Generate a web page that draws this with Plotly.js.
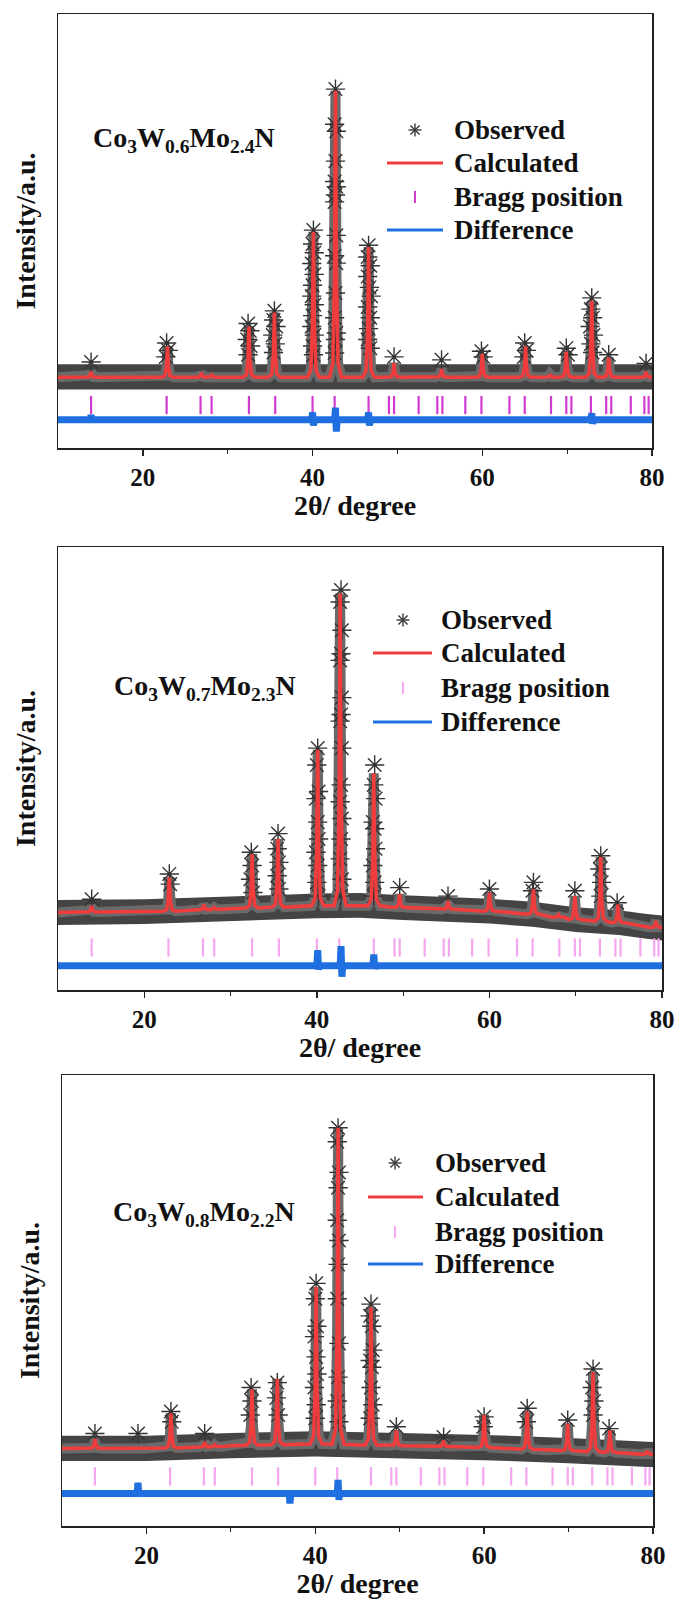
<!DOCTYPE html>
<html><head><meta charset="utf-8">
<script src="https://cdn.plot.ly/plotly-3.0.1.min.js"></script>
<style>html,body{margin:0;padding:0;background:#fff}</style>
</head><body><div id="chart" style="width:678px;height:1600px"></div>
<script>
// ---------- data (y in arbitrary intensity units, 0-100 per panel) ----------
const sampleLabels = ['Co<sub>3</sub>W<sub>0.6</sub>Mo<sub>2.4</sub>N',
                      'Co<sub>3</sub>W<sub>0.7</sub>Mo<sub>2.3</sub>N',
                      'Co<sub>3</sub>W<sub>0.8</sub>Mo<sub>2.2</sub>N'];
const seriesNames = ['Observed', 'Calculated', 'Bragg position', 'Difference'];
const xTickVals = [20, 40, 60, 80];
const xMinorVals = [30, 50, 70];

const braggPos = [13.9, 22.8, 26.8, 28.1, 32.5, 35.6, 40.0, 42.6, 46.6, 49.0, 49.6, 52.5, 54.7, 55.3,
                  58.0, 59.9, 63.2, 65.0, 68.1, 69.9, 70.5, 72.8, 74.6, 75.2, 77.5, 79.1, 79.6];
const braggLevel = [9.9, 9.6, 11.0];

// calculated-profile peaks
const peakPos = [13.9, 22.9, 26.9, 28.1, 32.5, 35.5, 40.1, 42.7, 46.6, 49.6, 55.2, 60.0, 65.1, 68.0, 69.9, 72.9, 74.9, 79.3];
const calcApex1 = [17.6, 23.4, 17.3, 16.8, 28.0, 31.2, 49.8, 82.3, 46.3, 19.6, 18.2, 21.7, 23.4, 17.0, 22.2, 33.9, 20.8, 17.6];
const calcBase1 = [16.3, 16.3, 16.3, 16.3, 16.3, 16.3, 16.3, 16.3, 16.3, 16.3, 16.3, 16.3, 16.3, 16.3, 16.3, 16.3, 16.3, 16.3];
const calcApex2 = [19.0, 25.4, 19.3, 18.6, 30.7, 34.1, 54.2, 89.5, 48.9, 21.6, 20.1, 22.0, 22.8, 17.0, 21.2, 30.0, 19.3, 15.6];
const calcBase2 = [17.6, 17.8, 18.1, 18.2, 18.5, 18.7, 19.0, 19.0, 19.0, 18.6, 18.2, 17.8, 17.1, 16.4, 15.9, 15.5, 15.2, 14.1];
const calcApex3 = [19.3, 25.0, 18.6, 18.0, 30.3, 32.6, 53.0, 88.3, 48.5, 21.2, 18.9, 24.6, 25.4, 17.0, 22.7, 34.1, 21.2, 16.7];
const calcBase3 = [17.2, 17.3, 17.5, 17.6, 17.9, 18.0, 18.2, 18.1, 17.9, 17.8, 17.6, 17.4, 17.0, 16.8, 16.7, 16.5, 16.3, 15.9];

// background (baseline) of calculated profile
const baseX1 = [10, 80];
const baseY1 = [16.3, 16.3];
const baseX2 = [10, 20, 30, 40, 45, 50, 60, 65, 70, 75, 78, 80];
const baseY2 = [17.5, 17.7, 18.3, 19.0, 19.1, 18.6, 17.8, 17.1, 15.9, 15.2, 14.4, 14.0];
const baseX3 = [10, 20, 30, 40, 50, 60, 70, 75, 80];
const baseY3 = [17.2, 17.2, 17.8, 18.2, 17.8, 17.4, 16.7, 16.3, 15.8];

// dense observed scatter band (upper / lower envelope)
const bandX1 = [10, 80];
const bandHi1 = [19.3, 19.3];
const bandLo1 = [13.5, 13.5];
const bandX2 = [10, 20, 30, 40, 45, 50, 60, 65, 70, 75, 78, 80];
const bandHi2 = [20.3, 20.5, 21.1, 21.8, 21.9, 21.4, 20.6, 19.9, 18.7, 18.0, 17.2, 16.8];
const bandLo2 = [14.7, 14.9, 15.5, 16.2, 16.3, 15.8, 15.0, 14.3, 13.1, 12.4, 11.6, 11.2];
const bandX3 = [10, 20, 30, 40, 50, 60, 70, 75, 80];
const bandHi3 = [20.0, 20.0, 20.6, 21.0, 20.6, 20.2, 19.5, 19.1, 18.6];
const bandLo3 = [14.4, 14.4, 15.0, 15.4, 15.0, 14.6, 13.9, 13.5, 13.0];

// observed points standing above the band (x, y)
const obsPts1 = [[13.9,19.8],[22.8,24.2],[23.0,22.5],[22.7,21.0],
  [32.4,28.7],[32.6,27.0],[32.3,25.0],[32.7,23.5],[32.4,21.5],
  [35.5,31.6],[35.4,29.5],[35.7,28.0],[35.3,26.0],[35.6,24.0],[35.4,22.0],
  [40.1,50.2],[40.0,47.0],[40.2,45.0],[39.9,42.5],[40.2,40.0],[40.0,37.5],[39.9,35.0],[40.2,33.0],[40.0,30.5],[39.9,28.0],[40.2,26.0],[40.0,23.5],[40.1,21.5],
  [42.7,82.7],[42.6,74.6],[42.8,73.0],[42.7,66.1],[42.6,61.4],[42.8,60.2],[42.7,58.3],[42.6,56.7],[42.8,49.0],[42.6,44.3],[42.8,42.6],[42.7,35.7],[42.6,30.0],[42.8,26.5],[42.7,25.0],[42.6,21.9],
  [46.6,46.7],[46.5,44.0],[46.8,42.0],[46.5,39.5],[46.7,37.0],[46.9,35.0],[46.5,32.5],[46.8,30.0],[46.6,27.5],[46.5,25.0],[46.8,23.0],
  [49.6,21.0],[55.2,20.3],[59.9,22.3],[60.1,21.0],[65.0,24.2],[65.2,22.5],[64.9,21.0],[69.9,23.0],[70.1,21.5],
  [72.9,34.6],[72.8,32.0],[73.0,30.0],[72.7,28.0],[73.1,26.0],[72.8,24.0],[73.0,22.0],[74.9,21.5],[79.3,19.5]];
const obsPts2 = [[13.9,20.5],[22.9,26.2],[23.0,23.9],
  [32.4,31.1],[32.5,28.1],[32.3,25.0],[32.6,22.0],
  [35.5,35.3],[35.4,31.9],[35.6,28.8],[35.4,25.8],[35.6,22.8],
  [40.1,54.6],[40.0,50.8],[40.2,44.8],[39.9,43.2],[40.1,37.9],[40.2,34.1],[39.9,31.1],[40.1,28.1],[40.0,24.3],[40.2,21.2],
  [42.8,90.3],[42.7,87.6],[42.9,81.2],[42.8,75.9],[42.7,74.4],[42.9,66.0],[42.8,62.2],[42.7,60.7],[42.9,54.6],[42.8,46.3],[42.7,42.5],[42.9,38.7],[42.8,34.1],[42.7,29.6],[42.9,25.0],[42.8,21.2],
  [46.7,50.8],[46.6,46.3],[46.8,43.2],[46.5,37.9],[46.7,36.4],[46.8,31.9],[46.5,28.1],[46.7,24.3],[46.6,21.2],
  [49.6,23.1],[55.2,21.2],[60.0,22.8],[65.1,24.3],[65.0,22.4],[69.9,22.4],
  [72.9,30.3],[72.8,27.3],[73.0,24.3],[72.9,21.2],[74.8,19.7]];
const obsPts3 = [[13.9,20.5],[19.0,20.5],[22.9,25.4],[23.0,23.1],[26.9,20.5],
  [32.4,30.7],[32.5,27.7],[32.3,24.6],[35.5,31.8],[35.4,28.4],[35.6,24.6],
  [40.1,53.8],[40.0,50.4],[40.2,44.3],[39.9,42.0],[40.1,37.5],[40.2,33.7],[39.9,30.7],[40.1,26.9],[40.0,23.9],
  [42.7,88.3],[42.6,85.2],[42.8,78.4],[42.7,75.0],[42.6,67.8],[42.8,63.3],[42.7,58.0],[42.6,50.4],[42.8,40.5],[42.7,33.0],[42.6,27.7],[42.8,23.1],
  [46.6,49.2],[46.5,46.6],[46.7,44.3],[46.8,39.0],[46.5,36.7],[46.7,35.2],[46.6,30.7],[46.8,26.9],[46.5,23.9],
  [49.6,22.0],[55.2,19.7],[60.0,24.2],[59.9,22.0],[65.1,26.1],[65.0,23.1],[69.9,23.5],
  [72.9,34.8],[72.8,30.7],[73.0,27.7],[72.9,24.6],[74.8,21.6]];

// difference curves
const diffX1 = [10, 13.8, 13.9, 14.0, 39.9, 40.0, 40.1, 40.2, 42.6, 42.7, 42.8, 42.9, 46.5, 46.6, 46.7, 46.8, 72.8, 72.9, 73.0, 73.1, 80];
const diffY1 = [6.5, 6.5, 7.6, 6.5, 6.5, 8.2, 5.2, 6.5, 6.5, 9.3, 3.8, 6.5, 6.5, 8.2, 5.2, 6.5, 6.5, 8.0, 5.6, 6.5, 6.5];
const diffX2 = [10, 40.0, 40.1, 40.2, 40.3, 42.7, 42.8, 42.9, 43.0, 46.5, 46.6, 46.7, 46.8, 80];
const diffY2 = [5.5, 5.5, 9.0, 4.6, 5.5, 5.5, 9.9, 3.0, 5.5, 5.5, 8.0, 4.8, 5.5, 5.5];
const diffX3 = [10, 18.9, 19.0, 19.1, 19.2, 36.9, 37.0, 37.1, 42.6, 42.7, 42.8, 42.9, 80];
const diffY3 = [7.2, 7.2, 9.6, 6.6, 7.2, 7.2, 5.0, 7.2, 7.2, 10.2, 5.8, 7.2, 7.2];

// ---------- style ----------
const FONT = 'Liberation Serif, Times New Roman, serif';
const W = 678, H = 1600;
const boxes = [ {l:58, r:652, t:14,   b:448},
                {l:58, r:662, t:547,  b:990},
                {l:62, r:653, t:1075, b:1526} ];
const RED = '#f03c3c', BLUE = '#1f6fe0', GREY = '#444';
const braggColors = ['#d23ad2', '#f4a6ee', '#f4a6ee'];
// legend layout in pixels: symbol centre, line span, text start, row centres
const legendGeo = [
  {sym:415, l0:387, l1:443, text:452, rows:[130, 163, 197, 230]},
  {sym:403, l0:373, l1:432, text:439, rows:[620, 653, 688, 722]},
  {sym:395, l0:368, l1:423, text:433, rows:[1163, 1197, 1232, 1264]}
];
const labelPos = [ {x:24.9, y:71.1}, {x:27.0, y:68.3}, {x:26.8, y:69.3} ];

// peak drawing template (shape of a narrow diffraction peak)
const tplDx = [-0.7, -0.3, -0.12, 0, 0.12, 0.3, 0.7];
const tplF  = [0, 0.05, 0.35, 1, 0.35, 0.05, 0];

function calcProfile(bx, by, apex, base) {
  const pts = [];
  bx.forEach((x, i) => {
    if (!peakPos.some(p => Math.abs(p - x) < 0.75)) pts.push([x, by[i]]);
  });
  peakPos.forEach((p, k) => {
    tplDx.forEach((d, j) => pts.push([p + d, base[k] + tplF[j] * (apex[k] - base[k])]));
  });
  pts.sort((a, b) => a[0] - b[0]);
  return {x: pts.map(q => q[0]), y: pts.map(q => q[1])};
}

const panels = [
  {bx:baseX1, by:baseY1, apex:calcApex1, base:calcBase1, bandX:bandX1, hi:bandHi1, lo:bandLo1, obs:obsPts1, dx:diffX1, dy:diffY1},
  {bx:baseX2, by:baseY2, apex:calcApex2, base:calcBase2, bandX:bandX2, hi:bandHi2, lo:bandLo2, obs:obsPts2, dx:diffX2, dy:diffY2},
  {bx:baseX3, by:baseY3, apex:calcApex3, base:calcBase3, bandX:bandX3, hi:bandHi3, lo:bandLo3, obs:obsPts3, dx:diffX3, dy:diffY3}
];

const traces = [];
const layout = {
  width: W, height: H, margin: {l:0, r:0, t:0, b:0},
  paper_bgcolor: '#fff', plot_bgcolor: '#fff', showlegend: false,
  font: {family: FONT, color: '#111'},
  annotations: [], shapes: []
};
const px = v => v / W, py = v => 1 - v / H;

panels.forEach((P, i) => {
  const n = i === 0 ? '' : String(i + 1);
  const xa = 'x' + n, ya = 'y' + n;
  const B = boxes[i];
  const c = calcProfile(P.bx, P.by, P.apex, P.base);
  // observed: dense band of points along the background
  traces.push({type:'scatter', mode:'lines', xaxis:xa, yaxis:ya, name:seriesNames[0], hoverinfo:'skip',
    x: P.bandX.concat(P.bandX.slice().reverse()), y: P.hi.concat(P.lo.slice().reverse()),
    fill:'toself', fillcolor:GREY, line:{width:0, color:GREY}});
  // observed: scatter of points closely following the peaks
  traces.push({type:'scatter', mode:'lines', xaxis:xa, yaxis:ya, name:seriesNames[0], hoverinfo:'skip',
    x:c.x, y:c.y, line:{color:'#6a6a6a', width:10}});
  // observed points
  traces.push({type:'scatter', mode:'markers', name:seriesNames[0], xaxis:xa, yaxis:ya,
    x: P.obs.map(q => q[0]), y: P.obs.map(q => q[1]),
    marker:{symbol:'asterisk-open', size:16, color:'#333', line:{width:1.4, color:'#333'}}});
  // calculated
  traces.push({type:'scatter', mode:'lines', name:seriesNames[1], xaxis:xa, yaxis:ya,
    x:c.x, y:c.y, line:{color:RED, width:3.5}});
  // bragg
  traces.push({type:'scatter', mode:'markers', name:seriesNames[2], xaxis:xa, yaxis:ya,
    x: braggPos, y: braggPos.map(() => braggLevel[i]),
    marker:{symbol:'line-ns-open', size:13, color:braggColors[i], line:{width:2.2, color:braggColors[i]}}});
  // difference
  traces.push({type:'scatter', mode:'lines', name:seriesNames[3], xaxis:xa, yaxis:ya,
    x:P.dx, y:P.dy, line:{color:BLUE, width:7}});

  layout['xaxis' + n] = {
    domain:[B.l / W, B.r / W], anchor:ya, range:[10, 80],
    showline:true, mirror:true, linecolor:'#222', linewidth:1.5,
    ticks:'outside', ticklen:6, tickwidth:1.5, tickcolor:'#222',
    tickmode:'array', tickvals:xTickVals,
    minor:{tickmode:'array', tickvals:xMinorVals, ticks:'outside', ticklen:4, tickwidth:1.2, tickcolor:'#222'},
    showgrid:false, zeroline:false,
    tickfont:{family:FONT, size:25, color:'#111', weight:'bold'},
    title:{text:'2θ/ degree', font:{family:FONT, size:28, color:'#111', weight:'bold'}, standoff:2}
  };
  layout['yaxis' + n] = {
    domain:[1 - B.b / H, 1 - B.t / H], anchor:xa, range:[0, 100],
    showline:true, mirror:true, linecolor:'#222', linewidth:1.5,
    tickmode:'array', tickvals:[], ticks:'', showticklabels:false, showgrid:false, zeroline:false,
    title:{text:'Intensity/a.u.', font:{family:FONT, size:28, color:'#111', weight:'bold'}, standoff:12}
  };
  layout.annotations.push({xref:xa, yref:ya, x:labelPos[i].x, y:labelPos[i].y, text:sampleLabels[i],
    showarrow:false, xanchor:'center', yanchor:'middle',
    font:{family:FONT, size:28, color:'#111', weight:'bold'}});

  // legend (drawn by hand so the key lines have the reference length)
  const G = legendGeo[i];
  G.rows.forEach((ry, k) => {
    layout.annotations.push({xref:'paper', yref:'paper', x:px(G.text), y:py(ry), text:seriesNames[k],
      showarrow:false, xanchor:'left', yanchor:'middle',
      font:{family:FONT, size:27, color:'#111', weight:'bold'}});
  });
  const r = 6.5, d = 4.6;
  [[-r,0,r,0],[0,-r,0,r],[-d,-d,d,d],[-d,d,d,-d]].forEach(s => {
    layout.shapes.push({type:'line', xref:'paper', yref:'paper',
      x0:px(G.sym + s[0]), y0:py(G.rows[0] + s[1]), x1:px(G.sym + s[2]), y1:py(G.rows[0] + s[3]),
      line:{color:'#3a3a3a', width:1.4}});
  });
  layout.shapes.push({type:'line', xref:'paper', yref:'paper', x0:px(G.l0), x1:px(G.l1),
    y0:py(G.rows[1]), y1:py(G.rows[1]), line:{color:RED, width:3}});
  layout.shapes.push({type:'line', xref:'paper', yref:'paper', x0:px(G.sym), x1:px(G.sym),
    y0:py(G.rows[2] - 6), y1:py(G.rows[2] + 6), line:{color:braggColors[i], width:2}});
  layout.shapes.push({type:'line', xref:'paper', yref:'paper', x0:px(G.l0), x1:px(G.l1),
    y0:py(G.rows[3]), y1:py(G.rows[3]), line:{color:BLUE, width:3}});
});

Plotly.newPlot('chart', traces, layout, {displayModeBar:false, staticPlot:true});
</script>
</body></html>
